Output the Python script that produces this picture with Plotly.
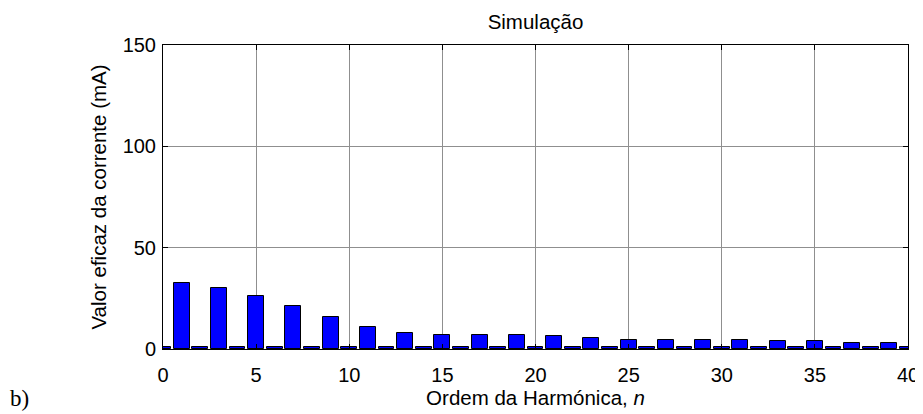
import plotly.graph_objects as go

harmonic_order = list(range(0, 41))
odd_values = [32.4, 29.9, 26.1, 21.4, 15.6, 10.8, 7.7, 7.1, 7.1, 7.1,
              6.3, 5.3, 4.6, 4.6, 4.6, 4.6, 3.8, 3.8, 3.0, 3.0]
even_value = 0.8
current_ma = []
for n in harmonic_order:
    if n % 2 == 1:
        current_ma.append(odd_values[(n - 1) // 2])
    else:
        current_ma.append(even_value)

x_ticks = [0, 5, 10, 15, 20, 25, 30, 35, 40]
y_ticks = [0, 50, 100, 150]

FONT = "Liberation Sans, Arial, sans-serif"
FS = 20
FS_LABEL = 20.5

# page body has an 8px margin; figure is sized so the plot sits where the reference has it
W, H = 915, 406
ML, MR, MT, MB = 155, 15, 37, 65
PW, PH = W - ML - MR, H - MT - MB

fig = go.Figure()
fig.add_trace(go.Bar(
    x=harmonic_order, y=current_ma, width=0.85,
    marker=dict(color="#0000ff", line=dict(color="black", width=1)),
    showlegend=False,
))

axis_common = dict(
    showline=True, linecolor="black", linewidth=1, mirror="ticks",
    ticks="inside", ticklen=5, tickcolor="black", tickwidth=1,
    showgrid=True, gridcolor="#8f8f8f", gridwidth=1, griddash="solid",
    zeroline=False,
    tickfont=dict(family=FONT, size=FS, color="black"),
)

fig.update_xaxes(range=[0, 40], tickvals=x_ticks, ticktext=[str(v) for v in x_ticks],
                 title=dict(text="Ordem da Harmónica, <i>n</i>", font=dict(family=FONT, size=FS_LABEL, color="black"), standoff=4),
                 ticklabelstandoff=8,
                 **axis_common)
fig.update_yaxes(range=[0, 150], tickvals=y_ticks, ticktext=[str(v) for v in y_ticks],
                 title=dict(text="Valor eficaz da corrente (mA)", font=dict(family=FONT, size=FS_LABEL, color="black"), standoff=10),
                 ticklabelstandoff=2,
                 **axis_common)

fig.update_layout(
    width=W, height=H,
    margin=dict(l=ML, r=MR, t=MT, b=MB, autoexpand=False),
    paper_bgcolor="white", plot_bgcolor="white",
    bargap=0,
    title=dict(text="Simulação", x=(ML + PW / 2) / W, xanchor="center",
               y=1 - 14 / H, yanchor="middle",
               font=dict(family=FONT, size=FS_LABEL, color="black")),
    annotations=[dict(text="b)", xref="paper", yref="paper",
                      x=-ML / PW, xanchor="left",
                      y=-49 / PH, yanchor="middle",
                      showarrow=False,
                      font=dict(family="Liberation Serif, Times New Roman, serif", size=23, color="black"))],
)

fig.write_html("out.html")
